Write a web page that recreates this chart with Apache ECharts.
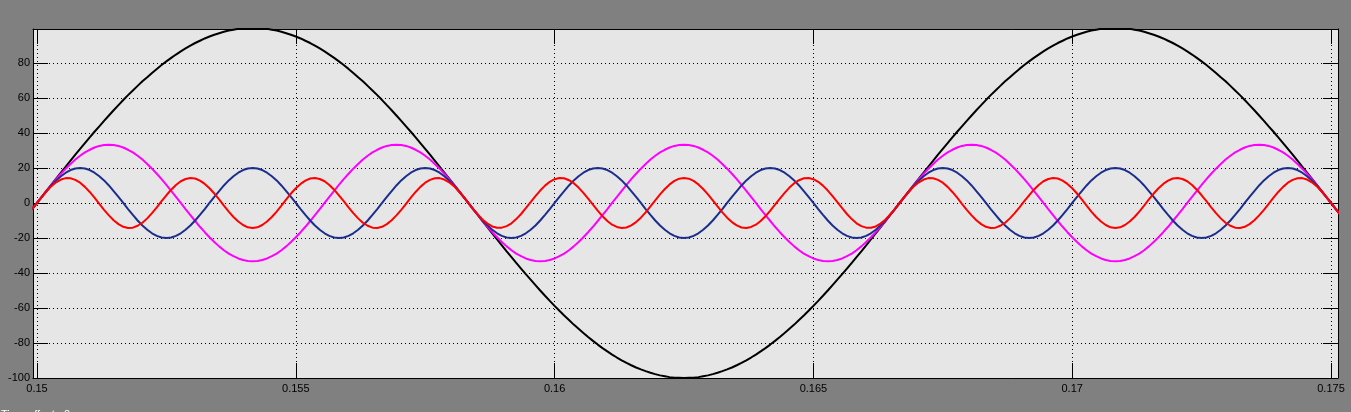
<!DOCTYPE html>
<html>
<head>
<meta charset="utf-8">
<script src="https://cdn.jsdelivr.net/npm/echarts@6/dist/echarts.min.js"></script>
<style>
html,body{margin:0;padding:0;background:#808080;}
#chart{width:1351px;height:412px;}
</style>
</head>
<body>
<div id="chart"></div>
<script>
// sample times (s)
const time = [0.149907,
0.15,0.150093,0.150185,0.150278,0.150370,0.150463,0.150556,0.150648,0.150741,0.150833,0.150926,0.151019,0.151111,0.151204,0.151296,0.151389,0.151481,0.151574,0.151667,0.151759,0.151852,0.151944,0.152037,0.152130,0.152222,0.152315,0.152407,
0.1525,0.152593,0.152685,0.152778,0.152870,0.152963,0.153056,0.153148,0.153241,0.153333,0.153426,0.153519,0.153611,0.153704,0.153796,0.153889,0.153981,0.154074,0.154167,0.154259,0.154352,0.154444,0.154537,0.154630,0.154722,0.154815,0.154907,
0.155,0.155093,0.155185,0.155278,0.155370,0.155463,0.155556,0.155648,0.155741,0.155833,0.155926,0.156019,0.156111,0.156204,0.156296,0.156389,0.156481,0.156574,0.156667,0.156759,0.156852,0.156944,0.157037,0.157130,0.157222,0.157315,0.157407,
0.1575,0.157593,0.157685,0.157778,0.157870,0.157963,0.158056,0.158148,0.158241,0.158333,0.158426,0.158519,0.158611,0.158704,0.158796,0.158889,0.158981,0.159074,0.159167,0.159259,0.159352,0.159444,0.159537,0.159630,0.159722,0.159815,0.159907,
0.16,0.160093,0.160185,0.160278,0.160370,0.160463,0.160556,0.160648,0.160741,0.160833,0.160926,0.161019,0.161111,0.161204,0.161296,0.161389,0.161481,0.161574,0.161667,0.161759,0.161852,0.161944,0.162037,0.162130,0.162222,0.162315,0.162407,
0.1625,0.162593,0.162685,0.162778,0.162870,0.162963,0.163056,0.163148,0.163241,0.163333,0.163426,0.163519,0.163611,0.163704,0.163796,0.163889,0.163981,0.164074,0.164167,0.164259,0.164352,0.164444,0.164537,0.164630,0.164722,0.164815,0.164907,
0.165,0.165093,0.165185,0.165278,0.165370,0.165463,0.165556,0.165648,0.165741,0.165833,0.165926,0.166019,0.166111,0.166204,0.166296,0.166389,0.166481,0.166574,0.166667,0.166759,0.166852,0.166944,0.167037,0.167130,0.167222,0.167315,0.167407,
0.1675,0.167593,0.167685,0.167778,0.167870,0.167963,0.168056,0.168148,0.168241,0.168333,0.168426,0.168519,0.168611,0.168704,0.168796,0.168889,0.168981,0.169074,0.169167,0.169259,0.169352,0.169444,0.169537,0.169630,0.169722,0.169815,0.169907,
0.17,0.170093,0.170185,0.170278,0.170370,0.170463,0.170556,0.170648,0.170741,0.170833,0.170926,0.171019,0.171111,0.171204,0.171296,0.171389,0.171481,0.171574,0.171667,0.171759,0.171852,0.171944,0.172037,0.172130,0.172222,0.172315,0.172407,
0.1725,0.172593,0.172685,0.172778,0.172870,0.172963,0.173056,0.173148,0.173241,0.173333,0.173426,0.173519,0.173611,0.173704,0.173796,0.173889,0.173981,0.174074,0.174167,0.174259,0.174352,0.174444,0.174537,0.174630,0.174722,0.174815,0.174907,
0.175,0.175093,0.175185];

// black trace
const blackVals = [-3.5,
0,3.5,7.0,10.5,13.9,17.4,20.8,24.2,27.6,30.9,34.2,37.5,40.7,43.8,46.9,50.0,53.0,55.9,58.8,61.6,64.3,66.9,69.5,71.9,74.3,76.6,78.8,80.9,82.9,84.8,86.6,88.3,89.9,91.4,92.7,94.0,95.1,96.1,97.0,97.8,98.5,99.0,99.5,99.8,99.9,100,
99.9,99.8,99.5,99.0,98.5,97.8,97.0,96.1,95.1,94.0,92.7,91.4,89.9,88.3,86.6,84.8,82.9,80.9,78.8,76.6,74.3,71.9,69.5,66.9,64.3,61.6,58.8,55.9,53.0,50.0,46.9,43.8,40.7,37.5,34.2,30.9,27.6,24.2,20.8,17.4,13.9,10.5,7.0,3.5,0,
-3.5,-7.0,-10.5,-13.9,-17.4,-20.8,-24.2,-27.6,-30.9,-34.2,-37.5,-40.7,-43.8,-46.9,-50.0,-53.0,-55.9,-58.8,-61.6,-64.3,-66.9,-69.5,-71.9,-74.3,-76.6,-78.8,-80.9,-82.9,-84.8,-86.6,-88.3,-89.9,-91.4,-92.7,-94.0,-95.1,-96.1,-97.0,-97.8,-98.5,-99.0,-99.5,-99.8,-99.9,-100,
-99.9,-99.8,-99.5,-99.0,-98.5,-97.8,-97.0,-96.1,-95.1,-94.0,-92.7,-91.4,-89.9,-88.3,-86.6,-84.8,-82.9,-80.9,-78.8,-76.6,-74.3,-71.9,-69.5,-66.9,-64.3,-61.6,-58.8,-55.9,-53.0,-50.0,-46.9,-43.8,-40.7,-37.5,-34.2,-30.9,-27.6,-24.2,-20.8,-17.4,-13.9,-10.5,-7.0,-3.5,0,
3.5,7.0,10.5,13.9,17.4,20.8,24.2,27.6,30.9,34.2,37.5,40.7,43.8,46.9,50.0,53.0,55.9,58.8,61.6,64.3,66.9,69.5,71.9,74.3,76.6,78.8,80.9,82.9,84.8,86.6,88.3,89.9,91.4,92.7,94.0,95.1,96.1,97.0,97.8,98.5,99.0,99.5,99.8,99.9,100,
99.9,99.8,99.5,99.0,98.5,97.8,97.0,96.1,95.1,94.0,92.7,91.4,89.9,88.3,86.6,84.8,82.9,80.9,78.8,76.6,74.3,71.9,69.5,66.9,64.3,61.6,58.8,55.9,53.0,50.0,46.9,43.8,40.7,37.5,34.2,30.9,27.6,24.2,20.8,17.4,13.9,10.5,7.0,3.5,0,
-3.5,-7.0];

// magenta trace
const magentaVals = [-3.5,
0,3.5,6.9,10.3,13.6,16.7,19.6,22.3,24.8,27.0,28.9,30.4,31.7,32.6,33.1,33.3,33.1,32.6,31.7,30.4,28.9,27.0,24.8,22.3,19.6,16.7,13.6,10.3,6.9,3.5,
0,-3.5,-6.9,-10.3,-13.6,-16.7,-19.6,-22.3,-24.8,-27.0,-28.9,-30.4,-31.7,-32.6,-33.1,-33.3,-33.1,-32.6,-31.7,-30.4,-28.9,-27.0,-24.8,-22.3,-19.6,-16.7,-13.6,-10.3,-6.9,-3.5,
0,3.5,6.9,10.3,13.6,16.7,19.6,22.3,24.8,27.0,28.9,30.4,31.7,32.6,33.1,33.3,33.1,32.6,31.7,30.4,28.9,27.0,24.8,22.3,19.6,16.7,13.6,10.3,6.9,3.5,
0,-3.5,-6.9,-10.3,-13.6,-16.7,-19.6,-22.3,-24.8,-27.0,-28.9,-30.4,-31.7,-32.6,-33.1,-33.3,-33.1,-32.6,-31.7,-30.4,-28.9,-27.0,-24.8,-22.3,-19.6,-16.7,-13.6,-10.3,-6.9,-3.5,
0,3.5,6.9,10.3,13.6,16.7,19.6,22.3,24.8,27.0,28.9,30.4,31.7,32.6,33.1,33.3,33.1,32.6,31.7,30.4,28.9,27.0,24.8,22.3,19.6,16.7,13.6,10.3,6.9,3.5,
0,-3.5,-6.9,-10.3,-13.6,-16.7,-19.6,-22.3,-24.8,-27.0,-28.9,-30.4,-31.7,-32.6,-33.1,-33.3,-33.1,-32.6,-31.7,-30.4,-28.9,-27.0,-24.8,-22.3,-19.6,-16.7,-13.6,-10.3,-6.9,-3.5,
0,3.5,6.9,10.3,13.6,16.7,19.6,22.3,24.8,27.0,28.9,30.4,31.7,32.6,33.1,33.3,33.1,32.6,31.7,30.4,28.9,27.0,24.8,22.3,19.6,16.7,13.6,10.3,6.9,3.5,
0,-3.5,-6.9,-10.3,-13.6,-16.7,-19.6,-22.3,-24.8,-27.0,-28.9,-30.4,-31.7,-32.6,-33.1,-33.3,-33.1,-32.6,-31.7,-30.4,-28.9,-27.0,-24.8,-22.3,-19.6,-16.7,-13.6,-10.3,-6.9,-3.5,
0,3.5,6.9,10.3,13.6,16.7,19.6,22.3,24.8,27.0,28.9,30.4,31.7,32.6,33.1,33.3,33.1,32.6,31.7,30.4,28.9,27.0,24.8,22.3,19.6,16.7,13.6,10.3,6.9,3.5,
0,-3.5,-6.9];

// blue trace
const blueVals = [-3.5,
0,3.5,6.8,10.0,12.9,15.3,17.3,18.8,19.7,20.0,19.7,18.8,17.3,15.3,12.9,10.0,6.8,3.5,
0,-3.5,-6.8,-10.0,-12.9,-15.3,-17.3,-18.8,-19.7,-20.0,-19.7,-18.8,-17.3,-15.3,-12.9,-10.0,-6.8,-3.5,
0,3.5,6.8,10.0,12.9,15.3,17.3,18.8,19.7,20.0,19.7,18.8,17.3,15.3,12.9,10.0,6.8,3.5,
0,-3.5,-6.8,-10.0,-12.9,-15.3,-17.3,-18.8,-19.7,-20.0,-19.7,-18.8,-17.3,-15.3,-12.9,-10.0,-6.8,-3.5,
0,3.5,6.8,10.0,12.9,15.3,17.3,18.8,19.7,20.0,19.7,18.8,17.3,15.3,12.9,10.0,6.8,3.5,
0,-3.5,-6.8,-10.0,-12.9,-15.3,-17.3,-18.8,-19.7,-20.0,-19.7,-18.8,-17.3,-15.3,-12.9,-10.0,-6.8,-3.5,
0,3.5,6.8,10.0,12.9,15.3,17.3,18.8,19.7,20.0,19.7,18.8,17.3,15.3,12.9,10.0,6.8,3.5,
0,-3.5,-6.8,-10.0,-12.9,-15.3,-17.3,-18.8,-19.7,-20.0,-19.7,-18.8,-17.3,-15.3,-12.9,-10.0,-6.8,-3.5,
0,3.5,6.8,10.0,12.9,15.3,17.3,18.8,19.7,20.0,19.7,18.8,17.3,15.3,12.9,10.0,6.8,3.5,
0,-3.5,-6.8,-10.0,-12.9,-15.3,-17.3,-18.8,-19.7,-20.0,-19.7,-18.8,-17.3,-15.3,-12.9,-10.0,-6.8,-3.5,
0,3.5,6.8,10.0,12.9,15.3,17.3,18.8,19.7,20.0,19.7,18.8,17.3,15.3,12.9,10.0,6.8,3.5,
0,-3.5,-6.8,-10.0,-12.9,-15.3,-17.3,-18.8,-19.7,-20.0,-19.7,-18.8,-17.3,-15.3,-12.9,-10.0,-6.8,-3.5,
0,3.5,6.8,10.0,12.9,15.3,17.3,18.8,19.7,20.0,19.7,18.8,17.3,15.3,12.9,10.0,6.8,3.5,
0,-3.5,-6.8,-10.0,-12.9,-15.3,-17.3,-18.8,-19.7,-20.0,-19.7,-18.8,-17.3,-15.3,-12.9,-10.0,-6.8,-3.5,
0,3.5,6.8,10.0,12.9,15.3,17.3,18.8,19.7,20.0,19.7,18.8,17.3,15.3,12.9,10.0,6.8,3.5,
0,-3.5,-6.8];

// red trace
const redVals = [-3.5,
0,3.5,6.7,9.6,11.8,13.4,14.2,14.1,13.2,11.6,9.2,6.3,3.0,-0.5,-3.9,-7.1,-9.9,-12.1,-13.6,-14.3,-14.1,-13.0,-11.3,-8.8,-5.8,-2.5,1.0,4.4,7.6,10.3,12.4,13.7,14.3,14.0,12.8,10.9,8.4,5.4,2.0,-1.5,-4.9,-8.0,-10.6,-12.6,-13.9,-14.3,-13.9,-12.6,-10.6,-8.0,-4.9,-1.5,2.0,5.4,8.4,10.9,12.8,14.0,14.3,13.7,12.4,10.3,7.6,4.4,1.0,-2.5,-5.8,-8.8,-11.3,-13.0,-14.1,-14.3,-13.6,-12.1,-9.9,-7.1,-3.9,-0.5,3.0,6.3,9.2,11.6,13.2,14.1,14.2,13.4,11.8,9.6,6.7,3.5,
0,-3.5,-6.7,-9.6,-11.8,-13.4,-14.2,-14.1,-13.2,-11.6,-9.2,-6.3,-3.0,0.5,3.9,7.1,9.9,12.1,13.6,14.3,14.1,13.0,11.3,8.8,5.8,2.5,-1.0,-4.4,-7.6,-10.3,-12.4,-13.7,-14.3,-14.0,-12.8,-10.9,-8.4,-5.4,-2.0,1.5,4.9,8.0,10.6,12.6,13.9,14.3,13.9,12.6,10.6,8.0,4.9,1.5,-2.0,-5.4,-8.4,-10.9,-12.8,-14.0,-14.3,-13.7,-12.4,-10.3,-7.6,-4.4,-1.0,2.5,5.8,8.8,11.3,13.0,14.1,14.3,13.6,12.1,9.9,7.1,3.9,0.5,-3.0,-6.3,-9.2,-11.6,-13.2,-14.1,-14.2,-13.4,-11.8,-9.6,-6.7,-3.5,
0,3.5,6.7,9.6,11.8,13.4,14.2,14.1,13.2,11.6,9.2,6.3,3.0,-0.5,-3.9,-7.1,-9.9,-12.1,-13.6,-14.3,-14.1,-13.0,-11.3,-8.8,-5.8,-2.5,1.0,4.4,7.6,10.3,12.4,13.7,14.3,14.0,12.8,10.9,8.4,5.4,2.0,-1.5,-4.9,-8.0,-10.6,-12.6,-13.9,-14.3,-13.9,-12.6,-10.6,-8.0,-4.9,-1.5,2.0,5.4,8.4,10.9,12.8,14.0,14.3,13.7,12.4,10.3,7.6,4.4,1.0,-2.5,-5.8,-8.8,-11.3,-13.0,-14.1,-14.3,-13.6,-12.1,-9.9,-7.1,-3.9,-0.5,3.0,6.3,9.2,11.6,13.2,14.1,14.2,13.4,11.8,9.6,6.7,3.5,
0,-3.5,-6.7];

const xTickLabels = ['0.15', '0.155', '0.16', '0.165', '0.17', '0.175'];
const yTickLabels = ['-100', '-80', '-60', '-40', '-20', '0', '20', '40', '60', '80'];

const pairs = vals => time.map((t, i) => [t, vals[i]]).filter(p => p[1] !== undefined);
const lookup = (labels, tol) => v => {
  const s = labels.find(l => Math.abs(parseFloat(l) - v) < tol);
  return s === undefined ? '' : s;
};

const chart = echarts.init(document.getElementById('chart'), null, { renderer: 'canvas' });

const labelStyle = { color: '#000', fontSize: 11, fontFamily: 'Liberation Sans, Arial, sans-serif' };
const dotted = { color: '#000', width: 1, type: [1, 3] };
const tickStyle = { inside: true, length: 15, lineStyle: { color: '#000', width: 1 } };
const axisLine = { show: true, onZero: false, lineStyle: { color: '#000', width: 1 } };

const xBase = {
  type: 'value', min: 0.149923, max: 0.175135,
  minInterval: 0.005, maxInterval: 0.005, splitNumber: 5,
  axisLine: axisLine, axisTick: tickStyle
};
const yBase = {
  type: 'value', min: -100, max: 99.4, interval: 20,
  axisLine: axisLine, axisTick: tickStyle
};

const mkSeries = (name, vals, color) => ({
  name: name, type: 'line', data: pairs(vals), showSymbol: false, symbol: 'none',
  lineStyle: { color: color, width: 2 }, itemStyle: { color: color },
  xAxisIndex: 0, yAxisIndex: 0, animation: false, clip: true
});

chart.setOption({
  backgroundColor: '#808080',
  animation: false,
  grid: { left: 33, top: 29, right: 13, bottom: 34, show: true, backgroundColor: '#e6e6e6', borderWidth: 0, containLabel: false },
  xAxis: [
    Object.assign({}, xBase, {
      position: 'bottom',
      axisLabel: Object.assign({ margin: 5, formatter: lookup(xTickLabels, 1e-7), showMinLabel: true, showMaxLabel: true, hideOverlap: false }, labelStyle),
      splitLine: { show: true, lineStyle: dotted }
    }),
    Object.assign({}, xBase, { position: 'top', axisLabel: { show: false }, splitLine: { show: false } })
  ],
  yAxis: [
    Object.assign({}, yBase, {
      position: 'left',
      axisLabel: Object.assign({ margin: 3, formatter: lookup(yTickLabels, 1e-6), showMinLabel: true, showMaxLabel: true, hideOverlap: false }, labelStyle),
      splitLine: { show: true, lineStyle: dotted }
    }),
    Object.assign({}, yBase, { position: 'right', axisLabel: { show: false }, splitLine: { show: false } })
  ],
  graphic: [{
    type: 'text', left: 1, top: 409,
    style: { text: 'Time offset:  0', fill: '#ffffff', font: '11px Liberation Sans, Arial, sans-serif' }
  }],
  series: [
    mkSeries('black', blackVals, '#000000'),
    mkSeries('magenta', magentaVals, '#ff00ff'),
    mkSeries('blue', blueVals, '#1c2e8c'),
    mkSeries('red', redVals, '#ff0000')
  ]
});
</script>
</body>
</html>
